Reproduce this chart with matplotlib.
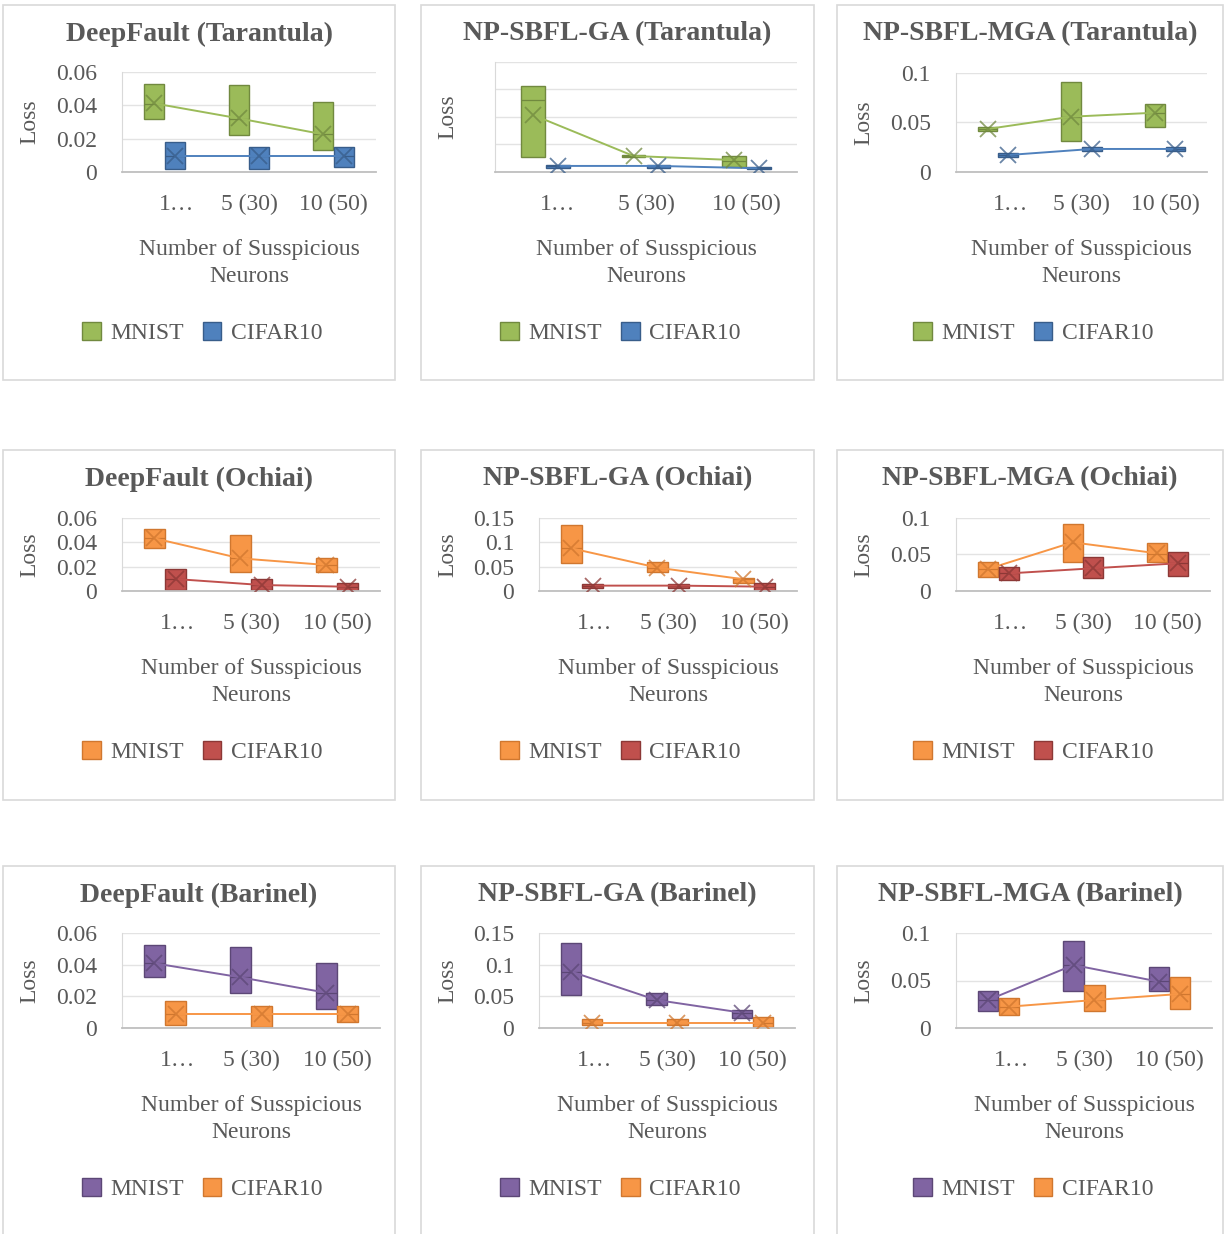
import numpy as np
import matplotlib
matplotlib.use("Agg")
import matplotlib.pyplot as plt
from matplotlib.patches import Rectangle, Patch

plt.rcParams['font.family'] = ['Liberation Serif', 'DejaVu Serif']

# categories on the x axis (first one is truncated, as in the workbook)
categories = ["1…", "5 (30)", "10 (50)"]
series = ["MNIST", "CIFAR10"]

titles = ["DeepFault (Tarantula)", "NP-SBFL-GA (Tarantula)", "NP-SBFL-MGA (Tarantula)",
          "DeepFault (Ochiai)", "NP-SBFL-GA (Ochiai)", "NP-SBFL-MGA (Ochiai)",
          "DeepFault (Barinel)", "NP-SBFL-GA (Barinel)", "NP-SBFL-MGA (Barinel)"]

# MNIST box (Q1, Q3), median and mean for each panel
mnist_q1 = [[0.032, 0.022, 0.013], [0.028, 0.028, 0.009], [0.041, 0.0315, 0.0456],
            [0.0354, 0.0158, 0.0158], [0.0566, 0.0395, 0.0157], [0.0195, 0.040, 0.040],
            [0.032, 0.022, 0.0121], [0.052, 0.0366, 0.0157], [0.0184, 0.0393, 0.0393]]
mnist_q3 = [[0.053, 0.052, 0.042], [0.156, 0.030, 0.029], [0.045, 0.0903, 0.068],
            [0.0505, 0.0458, 0.0273], [0.135, 0.0587, 0.0273], [0.040, 0.0914, 0.065],
            [0.0523, 0.0508, 0.0412], [0.134, 0.056, 0.0287], [0.0393, 0.0913, 0.0638]]
mnist_med = [[0.041, 0.032, 0.023], [0.130, 0.029, 0.020], [0.043, 0.055, 0.059],
             [0.043, 0.027, 0.021], [0.087, 0.048, 0.024], [0.030, 0.066, 0.051],
             [0.041, 0.032, 0.022], [0.089, 0.044, 0.024], [0.030, 0.066, 0.049]]
mnist_mean = [[0.0412, 0.0322, 0.0226], [0.1035, 0.029, 0.0217], [0.0433, 0.0557, 0.0597],
              [0.0431, 0.0267, 0.0213], [0.0873, 0.0478, 0.024], [0.030, 0.0664, 0.0514],
              [0.0408, 0.032, 0.0223], [0.0889, 0.0444, 0.0245], [0.0296, 0.0662, 0.0488]]

# CIFAR10 box (Q1, Q3), median and mean for each panel
cifar_q1 = [[0.002, 0.002, 0.003], [0.008, 0.008, 0.005], [0.015, 0.021, 0.021],
            [0.0008, 0.0008, 0.0003], [0.007, 0.007, 0.001], [0.015, 0.018, 0.0209],
            [0.0021, 0.001, 0.004], [0.005, 0.005, 0.002], [0.0139, 0.0184, 0.0202]]
cifar_q3 = [[0.018, 0.015, 0.015], [0.013, 0.013, 0.009], [0.019, 0.025, 0.025],
            [0.018, 0.0096, 0.0068], [0.014, 0.014, 0.017], [0.033, 0.046, 0.0536],
            [0.0173, 0.014, 0.014], [0.014, 0.014, 0.017], [0.0314, 0.0453, 0.0533]]
cifar_med = [[0.0095, 0.0095, 0.0095], [0.011, 0.011, 0.007], [0.017, 0.023, 0.023],
             [0.0098, 0.0049, 0.0035], [0.011, 0.011, 0.009], [0.024, 0.031, 0.038],
             [0.009, 0.009, 0.009], [0.0088, 0.0088, 0.0088], [0.0226, 0.0296, 0.0359]]
cifar_mean = [[0.0095, 0.0095, 0.0095], [0.011, 0.011, 0.0067], [0.0171, 0.0232, 0.0232],
              [0.0098, 0.0049, 0.0035], [0.011, 0.011, 0.0089], [0.024, 0.031, 0.0378],
              [0.009, 0.009, 0.009], [0.0088, 0.0088, 0.0088], [0.0226, 0.0296, 0.0359]]

y_max = [0.06, 0.2, 0.1, 0.06, 0.15, 0.1, 0.06, 0.15, 0.1]
y_step = [0.02, 0.05, 0.05, 0.02, 0.05, 0.05, 0.02, 0.05, 0.05]
show_ylabels = [True, False, True, True, True, True, True, True, True]

# (fill, edge) colours
green = ("#9BBB59", "#71893F")
blue = ("#4F81BD", "#385D8A")
orange = ("#F79646", "#D0772F")
red = ("#C0504D", "#8C3836")
purple = ("#8064A2", "#5C4776")
row_colors = [(green, blue), (orange, red), (purple, orange)]

W, H = 1225, 1234
txt = "#595959"
fs = 17

fig = plt.figure(figsize=(W / 100, H / 100), dpi=100)
fig.patch.set_facecolor("white")

def fx(px):
    return px / W

def fy(py):
    return 1 - py / H

# panel frames and plot areas in pixels
col_frames = [(3, 395), (421, 814), (837, 1223)]
row_frames = [(5, 380), (450, 800), (866, 1260)]
plot_boxes = [(122, 72, 376, 172), (495, 61.7, 797, 172), (956, 72.7, 1207, 172),
              (122, 517.7, 380, 591), (539, 517.7, 797, 591), (956, 517.7, 1210, 591),
              (122, 932.7, 380, 1028.3), (539, 932.7, 795, 1028.3), (956, 932.7, 1212, 1028.3)]

xc = np.arange(3) + 0.5
off = 0.123
bw = 0.235

for k in range(9):
    r, c = divmod(k, 3)
    fl, fr = col_frames[c]
    ft, fb = row_frames[r]
    fig.patches.append(Rectangle((fx(fl), fy(fb)), fx(fr - fl), (fb - ft) / H,
                                 transform=fig.transFigure, fill=False,
                                 edgecolor="#D9D9D9", linewidth=1.2))
    l, t, rr, b = plot_boxes[k]
    ax = fig.add_axes([fx(l), fy(b), fx(rr - l), (b - t) / H])
    ax.set_xlim(0, 3)
    ax.set_ylim(0, y_max[k])
    ticks = np.round(np.arange(0, y_max[k] + 1e-9, y_step[k]), 3)
    ax.set_yticks(ticks)
    if show_ylabels[k]:
        ax.set_yticklabels([f"{v:g}" for v in ticks])
    else:
        ax.set_yticklabels([])
    ax.tick_params(axis='y', length=0, pad=18, labelsize=fs, labelcolor=txt)
    ax.set_xticks([])
    ax.grid(axis='y', color="#E3E3E3", linewidth=1.0)
    ax.set_axisbelow(True)
    for s in ["top", "right"]:
        ax.spines[s].set_visible(False)
    ax.spines["left"].set_color("#D9D9D9")
    ax.spines["bottom"].set_color("#BFBFBF")
    ax.spines["bottom"].set_linewidth(1.3)

    mcol, ccol = row_colors[r]
    data = [(mnist_q1[k], mnist_q3[k], mnist_med[k], mnist_mean[k], mcol, xc - off),
            (cifar_q1[k], cifar_q3[k], cifar_med[k], cifar_mean[k], ccol, xc + off)]
    for q1, q3, med, mean, col, xs in data:
        q1 = np.array(q1)
        q3 = np.array(q3)
        ax.bar(xs, q3 - q1, bottom=q1, width=bw, color=col[0],
               edgecolor=col[1], linewidth=1.0, zorder=2)
        ax.hlines(med, xs - bw / 2, xs + bw / 2, color=col[1], linewidth=0.9, zorder=3)
    for q1, q3, med, mean, col, xs in data:
        ax.plot(xs, mean, color=col[0], linewidth=1.4, zorder=4)
        ax.plot(xs, mean, linestyle='none', marker='x', markersize=11,
                markeredgewidth=1.3, color=col[1], alpha=0.75, zorder=5)

    # category labels
    for i, lab in enumerate(categories):
        dx = 9 if i == 0 else 0
        ax.annotate(lab, xy=(xc[i], 0), xycoords=('data', 'axes fraction'),
                    xytext=(dx, -23.5), textcoords='offset points',
                    ha='center', va='center', fontsize=fs, color=txt)

    cx = (fl + fr) / 2
    fig.text(fx(cx), fy(ft + 29), titles[k], ha='center', va='center',
             fontsize=20, fontweight='bold', color=txt)
    fig.text(fx(fl + 27), fy((t + b) / 2), "Loss", rotation=90, ha='center',
             va='center', fontsize=fs, color=txt)
    fig.text(fx((l + rr) / 2), fy(b + 91), "Number of Susspicious\nNeurons",
             ha='center', va='center', multialignment='center', linespacing=1.4,
             fontsize=fs, color=txt)
    handles = [Patch(facecolor=mcol[0], edgecolor=mcol[1]),
               Patch(facecolor=ccol[0], edgecolor=ccol[1])]
    fig.legend(handles, series, loc='center', bbox_to_anchor=(fx(cx + 3), fy(b + 161)),
               ncol=2, frameon=False, fontsize=fs, labelcolor=txt,
               handlelength=0.8, handleheight=0.8, handletextpad=0.4,
               columnspacing=0.8, borderaxespad=0, borderpad=0)

fig.savefig("out.png", dpi=100, facecolor="white")
